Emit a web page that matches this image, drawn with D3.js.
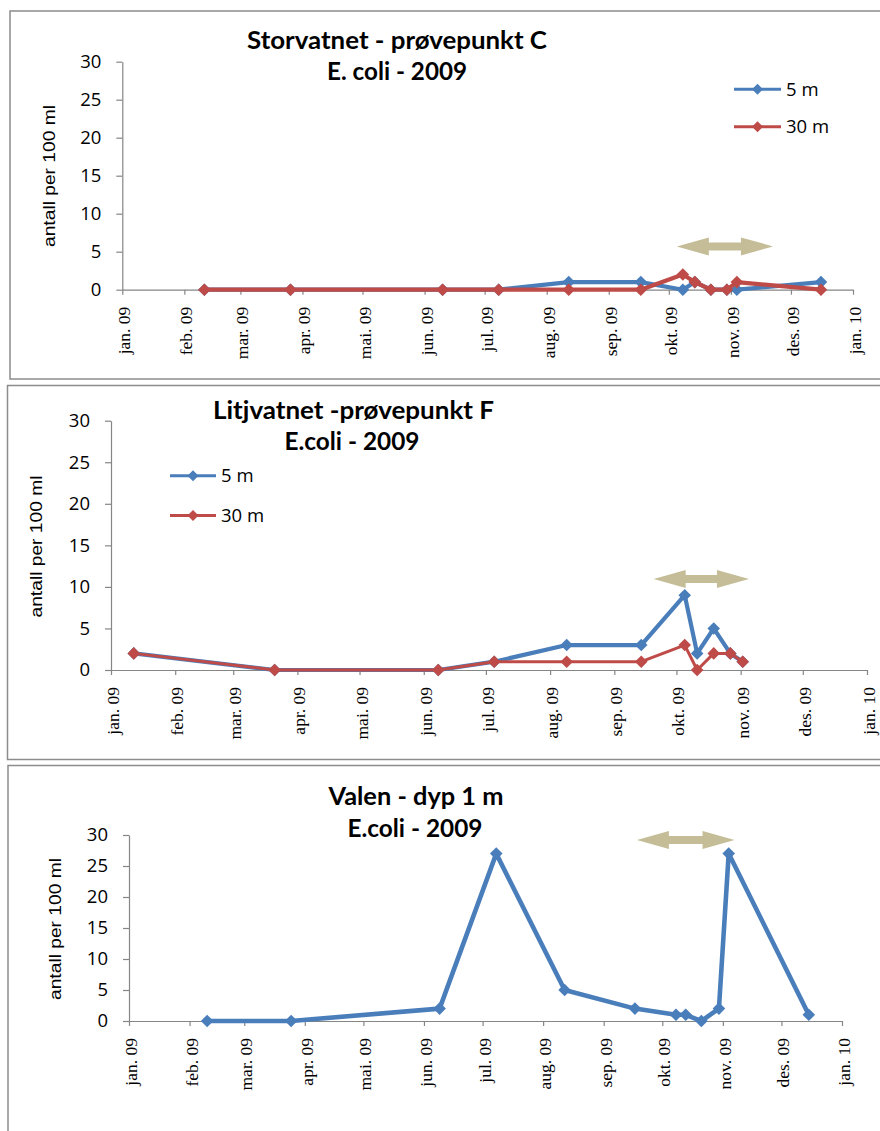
<!DOCTYPE html>
<html>
<head>
<meta charset="utf-8">
<script src="https://cdn.jsdelivr.net/npm/d3@7"></script>
<style>
  html, body { margin: 0; padding: 0; background: #fff; }
  svg { display: block; }
</style>
</head>
<body>
<svg id="chart" width="880" height="1131"></svg>
<script>
// ---------- DATA ----------
const monthLabels = ["jan", "feb", "mar", "apr", "mai", "jun", "jul", "aug", "sep", "okt", "nov", "des"];
const yTicks = [0, 5, 10, 15, 20, 25, 30];
const seriesNames = ["5 m", "30 m"];

// Storvatnet - prøvepunkt C
const storDates = ["2009-02-11", "2009-03-26", "2009-06-10", "2009-07-08", "2009-08-12", "2009-09-17",
                   "2009-10-08", "2009-10-14", "2009-10-22", "2009-10-30", "2009-11-04", "2009-12-16"];
const stor5m  = [0, 0, 0, 0, 1, 1, 0, 1, 0, 0, 0, 1];
const stor30m = [0, 0, 0, 0, 0, 0, 2, 1, 0, 0, 1, 0];
const storArrow = ["2009-10-05", "2009-11-22", 5.7];

// Litjvatnet - prøvepunkt F
const litjDates = ["2009-01-12", "2009-03-21", "2009-06-08", "2009-07-05", "2009-08-09", "2009-09-14",
                   "2009-10-05", "2009-10-11", "2009-10-19", "2009-10-27", "2009-11-02"];
const litj5m  = [2, 0, 0, 1, 3, 3, 9, 2, 5, 2, 1];
const litj30m = [2, 0, 0, 1, 1, 1, 3, 0, 2, 2, 1];
const litjArrow = ["2009-09-20", "2009-11-05", 10.95];

// Valen - dyp 1 m
const valenDates = ["2009-02-10", "2009-03-25", "2009-06-09", "2009-07-08", "2009-08-12", "2009-09-17",
                    "2009-10-08", "2009-10-13", "2009-10-21", "2009-10-30", "2009-11-04", "2009-12-15"];
const valen1m = [0, 0, 2, 27, 5, 2, 1, 1, 0, 2, 27, 1];
const valenArrow = ["2009-09-18", "2009-11-07", 29.2];

// ---------- STYLE ----------
const BLUE = "#4a7ebb", RED = "#be4b48", KHAKI = "#c4bd97", AXIS = "#868686", BORDER = "#8c8c8c";
const parse = d3.timeParse("%Y-%m-%d");
const svg = d3.select("#chart");

function fmtMonth(d) {
  return monthLabels[d.getMonth()] + ". " + String(d.getFullYear()).slice(2);
}
const diamond = "M0,-6.3L6.3,0L0,6.3L-6.3,0Z";
const diamondSmall = "M0,-5.5L5.5,0L0,5.5L-5.5,0Z";

function drawPanel(cfg) {
  // frame
  svg.append("rect")
    .attr("x", cfg.box[0]).attr("y", cfg.box[1])
    .attr("width", cfg.box[2]).attr("height", cfg.box[3])
    .attr("fill", "none").attr("stroke", BORDER).attr("stroke-width", 1.5);

  const g = svg.append("g");
  const x = d3.scaleTime().domain([new Date(2009, 0, 1), new Date(2010, 0, 1)]).range([cfg.x0, cfg.x1]);
  const y = d3.scaleLinear().domain([0, 30]).range([cfg.y0, cfg.y30]);

  // y axis
  const ya = g.append("g").attr("transform", `translate(${cfg.x0},0)`)
    .call(d3.axisLeft(y).tickValues(yTicks).tickSize(6).tickPadding(15).tickSizeOuter(0));
  ya.select(".domain").attr("stroke", AXIS).attr("stroke-width", 1.2);
  ya.selectAll(".tick line").attr("stroke", AXIS).attr("stroke-width", 1.2);
  ya.selectAll(".tick text").attr("fill", "#000")
    .style("font-family", "'Open Sans', sans-serif").style("font-size", "18.5px");

  // x axis
  const xa = g.append("g").attr("transform", `translate(0,${cfg.y0})`)
    .call(d3.axisBottom(x).ticks(d3.timeMonth.every(1)).tickFormat(fmtMonth).tickSize(5).tickSizeOuter(0));
  xa.select(".domain").attr("stroke", AXIS).attr("stroke-width", 1.2);
  xa.selectAll(".tick line").attr("stroke", AXIS).attr("stroke-width", 1.2);
  xa.selectAll(".tick text")
    .attr("transform", "rotate(-90)")
    .attr("x", -17).attr("y", 7.5).attr("dy", null)
    .attr("text-anchor", "end")
    .attr("fill", "#000")
    .style("font-family", "'Liberation Serif', 'Times New Roman', serif").style("font-size", "17.5px");

  // y axis title
  g.append("text")
    .attr("transform", `translate(${cfg.ylabX},${cfg.ylabY}) rotate(-90)`)
    .attr("text-anchor", "middle")
    .attr("textLength", 142).attr("lengthAdjust", "spacingAndGlyphs")
    .style("font-family", "'Liberation Sans', Arial, sans-serif").style("font-size", "17px")
    .text("antall per 100 ml");

  // titles
  cfg.titles.forEach(t => {
    g.append("text")
      .attr("x", t.cx).attr("y", t.by)
      .attr("text-anchor", "middle")
      .attr("textLength", t.w).attr("lengthAdjust", "spacingAndGlyphs")
      .style("font-family", "Lato, 'Open Sans', sans-serif").style("font-weight", "bold").style("font-size", "24px")
      .text(t.text);
  });

  // arrow annotation (in data space)
  const ax0 = x(parse(cfg.arrow[0])), ax1 = x(parse(cfg.arrow[1])), ay = y(cfg.arrow[2]);
  const hl = 32, hh = 9, sh = 4;
  g.append("path")
    .attr("d", `M${ax0},${ay} L${ax0 + hl},${ay - hh} L${ax0 + hl},${ay - sh} L${ax1 - hl},${ay - sh} L${ax1 - hl},${ay - hh} L${ax1},${ay} L${ax1 - hl},${ay + hh} L${ax1 - hl},${ay + sh} L${ax0 + hl},${ay + sh} L${ax0 + hl},${ay + hh} Z`)
    .attr("fill", KHAKI);

  // series
  const line = d3.line().x(d => x(d.date)).y(d => y(d.v));
  cfg.series.forEach(s => {
    const pts = cfg.dates.map((d, i) => ({ date: parse(d), v: s.values[i] }));
    g.append("path").datum(pts).attr("d", line)
      .attr("fill", "none").attr("stroke", s.color).attr("stroke-width", s.width)
      .attr("stroke-linejoin", "round");
    g.selectAll(null).data(pts).join("path")
      .attr("d", diamond)
      .attr("transform", d => `translate(${x(d.date)},${y(d.v)})`)
      .attr("fill", s.color);
  });

  // legend
  if (cfg.legend) {
    cfg.series.forEach((s, i) => {
      const ly = cfg.legend.y[i];
      const lg = g.append("g");
      lg.append("line").attr("x1", cfg.legend.x0).attr("x2", cfg.legend.x1)
        .attr("y1", ly).attr("y2", ly).attr("stroke", s.color).attr("stroke-width", 3);
      lg.append("path").attr("d", diamondSmall)
        .attr("transform", `translate(${(cfg.legend.x0 + cfg.legend.x1) / 2},${ly})`).attr("fill", s.color);
      lg.append("text").attr("x", cfg.legend.x1 + 5).attr("y", ly).attr("dy", "0.36em")
        .style("font-family", "'Open Sans', sans-serif").style("font-size", "18.5px")
        .text(s.name);
    });
  }
}

drawPanel({
  box: [10, 11, 900, 368],
  x0: 122.3, x1: 853, y0: 289.7, y30: 61.7,
  ylabX: 55, ylabY: 176,
  titles: [
    { text: "Storvatnet - prøvepunkt C", cx: 397, by: 49, w: 300 },
    { text: "E. coli - 2009", cx: 397, by: 80, w: 140 }
  ],
  arrow: storArrow,
  dates: storDates,
  series: [
    { name: seriesNames[0], values: stor5m, color: BLUE, width: 4.2 },
    { name: seriesNames[1], values: stor30m, color: RED, width: 4.2 }
  ],
  legend: { x0: 734, x1: 781, y: [89.3, 126.7] }
});

drawPanel({
  box: [7.5, 385.5, 900, 374],
  x0: 111, x1: 867, y0: 670, y30: 420.7,
  ylabX: 41.5, ylabY: 546.5,
  titles: [
    { text: "Litjvatnet -prøvepunkt F", cx: 353.5, by: 418.5, w: 281 },
    { text: "E.coli - 2009", cx: 352, by: 450, w: 135 }
  ],
  arrow: litjArrow,
  dates: litjDates,
  series: [
    { name: seriesNames[0], values: litj5m, color: BLUE, width: 4.2 },
    { name: seriesNames[1], values: litj30m, color: RED, width: 3 }
  ],
  legend: { x0: 170, x1: 216, y: [475.7, 515.5] }
});

drawPanel({
  box: [8, 765.5, 900, 400],
  x0: 129, x1: 842, y0: 1021, y30: 835,
  ylabX: 61, ylabY: 929,
  titles: [
    { text: "Valen - dyp 1 m", cx: 416, by: 805, w: 175 },
    { text: "E.coli - 2009", cx: 415, by: 837, w: 135 }
  ],
  arrow: valenArrow,
  dates: valenDates,
  series: [
    { name: "1 m", values: valen1m, color: BLUE, width: 4.6 }
  ],
  legend: null
});
</script>
</body>
</html>
